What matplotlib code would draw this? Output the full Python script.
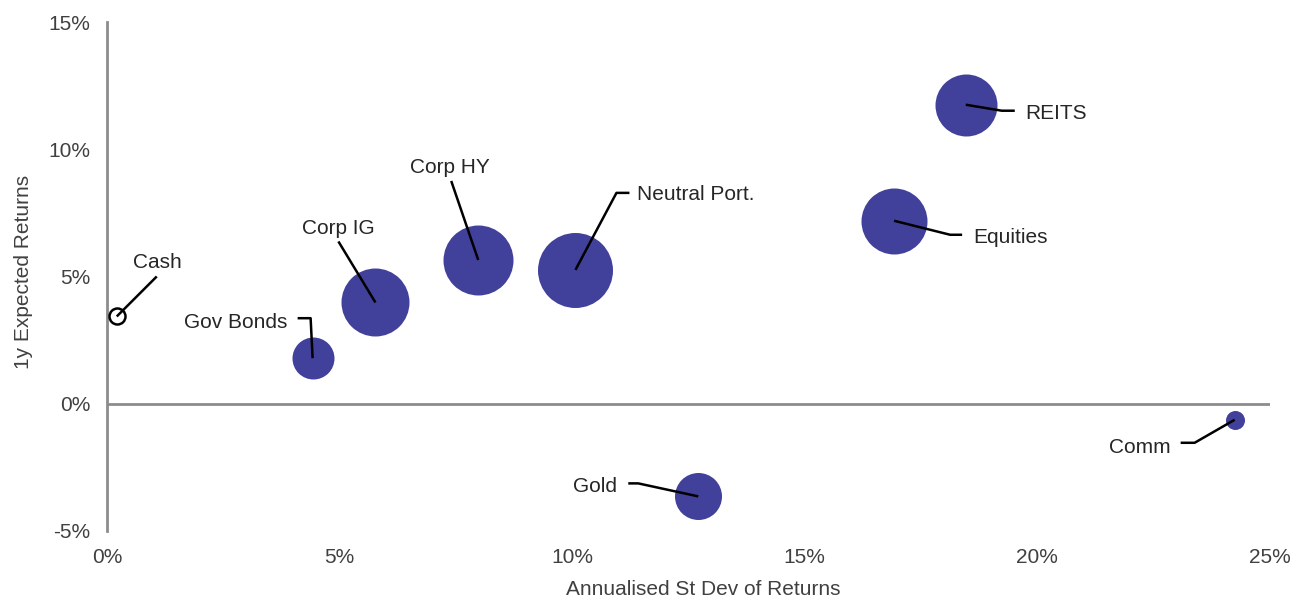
import matplotlib.pyplot as plt
import numpy as np

plt.rcParams['font.family'] = ['Liberation Sans', 'DejaVu Sans']

names = ['Cash', 'Gov Bonds', 'Corp IG', 'Corp HY', 'Neutral Port.', 'Gold', 'Equities', 'REITS', 'Comm']
st_dev = [0.21, 4.42, 5.77, 7.98, 10.07, 12.71, 16.92, 18.46, 24.24]      # %
exp_ret = [3.43, 1.79, 3.98, 5.65, 5.26, -3.64, 7.19, 11.75, -0.63]       # %
bubble_r = [8, 21, 34, 35, 37.5, 23.5, 33, 31, 9.5]                        # bubble radius, px

x_ticks = [0, 5, 10, 15, 20, 25]
y_ticks = [-5, 0, 5, 10, 15]

# leader lines: (elbow offset, end offset, text offset, ha) in pixels from bubble centre
leaders = {
    'Cash':          ((40, 40),  (40, 40),  (16, 54),  'left'),
    'Gov Bonds':     ((-2, 40),  (-15, 40), (-25, 36), 'right'),
    'Corp IG':       ((-37, 61), (-37, 61), (-37, 74), 'center'),
    'Corp HY':       ((-27, 79), (-27, 79), (-28, 92), 'center'),
    'Neutral Port.': ((41, 77),  (54, 77),  (62, 75),  'left'),
    'Gold':          ((-60, 13), (-70, 13), (-81, 10), 'right'),
    'Equities':      ((56, -14), (68, -14), (79, -17), 'left'),
    'REITS':         ((36, -6),  (49, -6),  (59, -9),  'left'),
    'Comm':          ((-40, -23), (-54, -23), (-64, -28), 'right'),
}

bubble_col = '#41409a'
axis_col = '#8c8c8c'
fs = 15

fig = plt.figure(figsize=(13.09, 5.97), dpi=100)
ax = fig.add_axes([107/1309, 1 - 531/597, 1163/1309, 509/597])
ax.set_xlim(0, 25)
ax.set_ylim(-5, 15)

# bubble sizes: radius px -> points^2
sizes = [(2 * r * 72 / 100) ** 2 for r in bubble_r]
for n, x, y, s in zip(names, st_dev, exp_ret, sizes):
    if n == 'Cash':
        ax.scatter(x, y, s=s, facecolor='white', edgecolor='black', linewidth=1.8, zorder=3, clip_on=False)
    else:
        ax.scatter(x, y, s=s, color=bubble_col, linewidth=0, zorder=3)

ax.axhline(0, color=axis_col, lw=2, zorder=1)

for n, x, y in zip(names, st_dev, exp_ret):
    elbow, end, txt, ha = leaders[n]
    p = ax.transData.transform((x, y))
    verts = np.array([p, p + elbow, p + end])
    d = ax.transData.inverted().transform(verts)
    ax.plot(d[:, 0], d[:, 1], color='black', lw=1.8, zorder=4, solid_capstyle='butt')
    ax.annotate(n, (x, y), xytext=txt, textcoords='offset pixels', ha=ha, va='center',
                fontsize=fs, color='#262626')

for side in ['top', 'right', 'bottom']:
    ax.spines[side].set_visible(False)
ax.spines['left'].set_color(axis_col)
ax.spines['left'].set_linewidth(2)

ax.set_xticks(x_ticks)
ax.set_xticklabels([f'{t}%' for t in x_ticks])
ax.set_yticks(y_ticks)
ax.set_yticklabels([f'{t}%' for t in y_ticks])
ax.tick_params(length=0, labelsize=fs, labelcolor='#404040')
ax.tick_params(axis='y', pad=12)
ax.tick_params(axis='x', pad=12.5)

ax.set_xlabel('Annualised St Dev of Returns', fontsize=fs, color='#404040')
ax.set_ylabel('1y Expected Returns', fontsize=fs, color='#404040')
ax.xaxis.set_label_coords(0.5125, -0.096)
ax.yaxis.set_label_coords(-0.064, 0.508)

fig.savefig('out.png', dpi=100)
